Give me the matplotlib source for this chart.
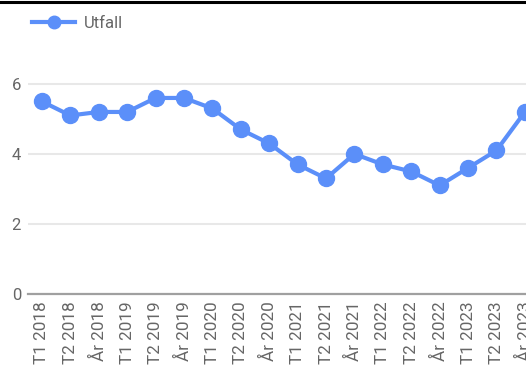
import matplotlib

matplotlib.use("Agg")

import matplotlib.pyplot as plt
from matplotlib.lines import Line2D

plt.rcParams["font.family"] = ["Roboto", "DejaVu Sans"]

LINE_BLUE = "#5B8FF9"
TEXT_GREY = "#666666"
GRID_GREY = "#E8E8E8"
AXIS_GREY = "#A0A0A0"

periods = [
    "T1 2018", "T2 2018", "År 2018",
    "T1 2019", "T2 2019", "År 2019",
    "T1 2020", "T2 2020", "År 2020",
    "T1 2021", "T2 2021", "År 2021",
    "T1 2022", "T2 2022", "År 2022",
    "T1 2023", "T2 2023", "År 2023",
]
utfall = [
    5.5, 5.1, 5.2,
    5.2, 5.6, 5.6,
    5.3, 4.7, 4.3,
    3.7, 3.3, 4.0,
    3.7, 3.5, 3.1,
    3.6, 4.1, 5.2,
]
y_ticks = [0, 2, 4, 6]

W, H = 526, 369
fig = plt.figure(figsize=(W / 100, H / 100), dpi=100)
fig.patch.set_facecolor("white")

# plot area runs past the right edge of the canvas
left, right, bottom, top = 28, 526, 294, 64
ax = fig.add_axes([left / W, 1 - bottom / H, (right - left) / W, (bottom - top) / H])

x = list(range(len(periods)))
ax.plot(x, utfall, color=LINE_BLUE, linewidth=3, marker="o", markersize=11.5,
        solid_joinstyle="round", solid_capstyle="round", clip_on=False, zorder=3)

ax.set_xlim(-0.49, 17.04)
ax.set_ylim(0, 6.57)
ax.set_yticks(y_ticks)
ax.set_xticks(x)
ax.set_xticklabels(periods, rotation=90, fontsize=12.3, color=TEXT_GREY)
ax.set_yticklabels([str(v) for v in y_ticks], fontsize=12, color=TEXT_GREY)

ax.grid(axis="y", color=GRID_GREY, linewidth=1.5)
ax.set_axisbelow(True)
for side in ["top", "right", "left"]:
    ax.spines[side].set_visible(False)
ax.spines["bottom"].set_color(AXIS_GREY)
ax.spines["bottom"].set_linewidth(1.6)
ax.tick_params(axis="both", length=0)
ax.tick_params(axis="x", pad=5)
ax.tick_params(axis="y", pad=5)

# legend at the top left
handle = Line2D([0], [0], color=LINE_BLUE, linewidth=3, marker="o", markersize=9)
fig.legend([handle], ["Utfall"], loc="upper left", bbox_to_anchor=(17 / W, 1 - 1 / H),
           frameon=False, fontsize=12, labelcolor=TEXT_GREY, handlelength=2.6,
           handletextpad=0.5)

# dark rule along the top edge
fig.add_artist(Line2D([0, 1], [1 - 2 / H, 1 - 2 / H], color="black", linewidth=2.2,
                      transform=fig.transFigure))

fig.savefig("out.png", dpi=100, facecolor="white")
